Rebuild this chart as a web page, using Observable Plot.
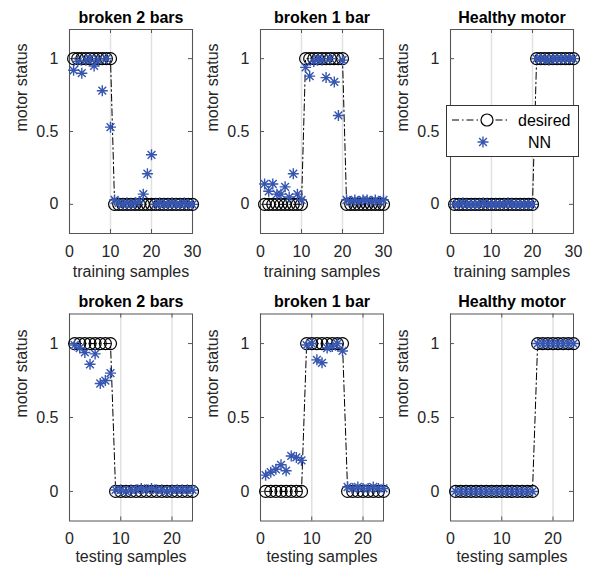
<!DOCTYPE html>
<html><head><meta charset="utf-8">
<script src="https://cdn.jsdelivr.net/npm/d3@7"></script>
<script src="https://cdn.jsdelivr.net/npm/@observablehq/plot@0.6"></script>
<style>
body{margin:0;background:#fff;}
#wrap{position:relative;width:591px;height:573px;font-family:"Liberation Sans",Arial,sans-serif;color:#262626;}
#wrap svg{position:absolute;overflow:visible;}
</style></head><body><div id="wrap"></div>
<script>
// ---- data ----
const trainSamples = [1,2,3,4,5,6,7,8,9,10,11,12,13,14,15,16,17,18,19,20,21,22,23,24,25,26,27,28,29,30];
const testSamples = [1,2,3,4,5,6,7,8,9,10,11,12,13,14,15,16,17,18,19,20,21,22,23,24];
const trainXTicks = [0,10,20,30];
const testXTicks = [0,10,20];
const yTicks = [0,0.5,1];
const panelTitles = ["broken 2 bars","broken 1 bar","Healthy motor"];
const trainLabel = "training samples";
const testLabel = "testing samples";
const yLabel = "motor status";
const legendLabels = ["desired","NN"];

const desiredTrain2 = [1,1,1,1,1,1,1,1,1,1, 0,0,0,0,0,0,0,0,0,0, 0,0,0,0,0,0,0,0,0,0];
const nnTrain2 = [0.92,0.98,0.90,0.99,1.00,0.95,0.99,0.78,1.00,0.53, 0.03,0.01,0.00,0.01,0.00,0.01,0.02,0.07,0.21,0.34, 0.00,0.01,0.00,0.00,0.01,0.00,0.00,0.01,0.00,0.00];
const desiredTrain1 = [0,0,0,0,0,0,0,0,0,0, 1,1,1,1,1,1,1,1,1,1, 0,0,0,0,0,0,0,0,0,0];
const nnTrain1 = [0.14,0.09,0.14,0.07,0.07,0.12,0.05,0.21,0.07,0.03, 0.94,0.88,0.98,1.00,0.99,0.87,1.00,0.84,0.61,0.99, 0.03,0.02,0.03,0.02,0.03,0.03,0.02,0.03,0.02,0.03];
const desiredTrain0 = [0,0,0,0,0,0,0,0,0,0, 0,0,0,0,0,0,0,0,0,0, 1,1,1,1,1,1,1,1,1,1];
const nnTrain0 = [0.00,0.00,0.01,0.00,0.00,0.00,0.00,0.01,0.00,0.00, 0.00,0.00,0.00,0.01,0.00,0.00,0.00,0.00,0.00,0.00, 1.00,1.00,1.00,0.99,1.00,1.00,1.00,1.00,1.00,1.00];

const desiredTest2 = [1,1,1,1,1,1,1,1, 0,0,0,0,0,0,0,0, 0,0,0,0,0,0,0,0];
const nnTest2 = [0.99,0.97,0.94,0.86,0.93,0.73,0.75,0.80, 0.01,0.01,0.00,0.01,0.01,0.02,0.01,0.02, 0.01,0.01,0.00,0.01,0.01,0.01,0.01,0.01];
const desiredTest1 = [0,0,0,0,0,0,0,0, 1,1,1,1,1,1,1,1, 0,0,0,0,0,0,0,0];
const nnTest1 = [0.11,0.13,0.15,0.18,0.14,0.24,0.23,0.21, 0.99,1.00,0.89,0.87,0.97,0.98,1.00,0.95, 0.03,0.02,0.03,0.02,0.02,0.03,0.02,0.02];
const desiredTest0 = [0,0,0,0,0,0,0,0, 0,0,0,0,0,0,0,0, 1,1,1,1,1,1,1,1];
const nnTest0 = [0.00,0.00,0.00,0.00,0.00,0.00,0.00,0.00, 0.00,0.00,0.00,0.00,0.00,0.00,0.00,0.00, 1.00,1.00,1.00,1.00,1.00,1.00,1.00,1.00];

// ---- styling ----
const FONT = '"Liberation Sans", Arial, sans-serif';
const BLUE = "#3656b0";
const FRAME = "#555";
const DASH = "7,3,1.5,3";
const asterisk = {
  draw(ctx, size) {
    const r = Math.sqrt(size / Math.PI);
    const d = r * Math.SQRT1_2;
    ctx.moveTo(-r, 0); ctx.lineTo(r, 0);
    ctx.moveTo(0, -r); ctx.lineTo(0, r);
    ctx.moveTo(-d, -d); ctx.lineTo(d, d);
    ctx.moveTo(-d, d); ctx.lineTo(d, -d);
  }
};

const wrap = document.getElementById("wrap");
const FW = 123, ML = 69, W = 195;

function panel({samples, desired, nn, title, xlabel, xTicks, xMax, left, top, height, mt, mb, xlabDy}) {
  const rows = samples.map((s, i) => ({s, desired: desired[i], nn: nn[i]}));
  const fh = height - mt - mb;
  const svg = Plot.plot({
    width: W, height,
    marginLeft: ML, marginRight: W - ML - FW, marginTop: mt, marginBottom: mb,
    style: {fontFamily: FONT, fontSize: "16px", color: "#262626", overflow: "visible", background: "transparent"},
    x: {domain: [0, xMax], ticks: xTicks},
    y: {domain: [-0.2, 1.2], ticks: yTicks},
    marks: [
      Plot.ruleX(xTicks, {x: d => d, stroke: "#e0e0e0", strokeWidth: 1.5}),
      Plot.axisX(xTicks, {tickSize: 0, tickPadding: 12, label: null, fontSize: 16}),
      Plot.axisY(yTicks, {tickSize: 0, tickPadding: 11, label: null, fontSize: 16, tickFormat: d => String(d)}),
      Plot.tickX(xTicks, {x: d => d, insetTop: fh - 4, stroke: FRAME}),
      Plot.tickX(xTicks, {x: d => d, insetBottom: fh - 4, stroke: FRAME}),
      Plot.tickY(yTicks, {y: d => d, insetRight: FW - 4, stroke: FRAME}),
      Plot.tickY(yTicks, {y: d => d, insetLeft: FW - 4, stroke: FRAME}),
      Plot.frame({stroke: FRAME}),
      Plot.line(rows, {x: "s", y: "desired", stroke: "black", strokeWidth: 1, strokeDasharray: DASH}),
      Plot.dot(rows, {x: "s", y: "desired", r: 6, stroke: "black", fill: "none", strokeWidth: 1.2}),
      Plot.dot(rows, {x: "s", y: "nn", r: 5.5, symbol: asterisk, stroke: BLUE, fill: "none", strokeWidth: 1.4}),
      Plot.text([title], {text: d => d, frameAnchor: "top", dy: -7, lineAnchor: "bottom", fontWeight: "bold", fontSize: 16, fill: "#000"}),
      Plot.text([xlabel], {text: d => d, frameAnchor: "bottom", dy: xlabDy, fontSize: 16}),
      Plot.text([yLabel], {text: d => d, frameAnchor: "left", dx: -48, rotate: -90, fontSize: 16})
    ]
  });
  svg.style.left = left + "px";
  svg.style.top = top + "px";
  wrap.appendChild(svg);
}

const lefts = [0, 190.5, 381];
const trainSets = [[desiredTrain2, nnTrain2], [desiredTrain1, nnTrain1], [desiredTrain0, nnTrain0]];
const testSets = [[desiredTest2, nnTest2], [desiredTest1, nnTest1], [desiredTest0, nnTest0]];
trainSets.forEach(([d, n], i) => panel({samples: trainSamples, desired: d, nn: n, title: panelTitles[i], xlabel: trainLabel,
  xTicks: trainXTicks, xMax: 30, left: lefts[i], top: 0, height: 286, mt: 29, mb: 53, xlabDy: 43}));
testSets.forEach(([d, n], i) => panel({samples: testSamples, desired: d, nn: n, title: panelTitles[i], xlabel: testLabel,
  xTicks: testXTicks, xMax: 24, left: lefts[i], top: 286, height: 287, mt: 27.5, mb: 52.5, xlabDy: 41}));

// ---- legend ----
const ns = "http://www.w3.org/2000/svg";
const lg = document.createElementNS(ns, "svg");
lg.setAttribute("width", 133); lg.setAttribute("height", 52);
lg.style.left = "446px"; lg.style.top = "105px";
lg.setAttribute("font-family", FONT); lg.setAttribute("font-size", 16);
const starPath = d3.symbol(asterisk, Math.PI * 5.5 * 5.5)();
lg.innerHTML = `
  <rect x="0.5" y="0.5" width="132" height="51" fill="white" stroke="#333"/>
  <line x1="6" x2="64" y1="15" y2="15" stroke="black" stroke-dasharray="${DASH}"/>
  <circle cx="41" cy="15" r="6" fill="white" stroke="black" stroke-width="1.2"/>
  <text x="72" y="15" dy="0.36em" fill="#000">${legendLabels[0]}</text>
  <path d="${starPath}" transform="translate(37,37)" fill="none" stroke="${BLUE}" stroke-width="1.4"/>
  <text x="82" y="37" dy="0.36em" fill="#000">${legendLabels[1]}</text>`;
wrap.appendChild(lg);
</script>
</body></html>
